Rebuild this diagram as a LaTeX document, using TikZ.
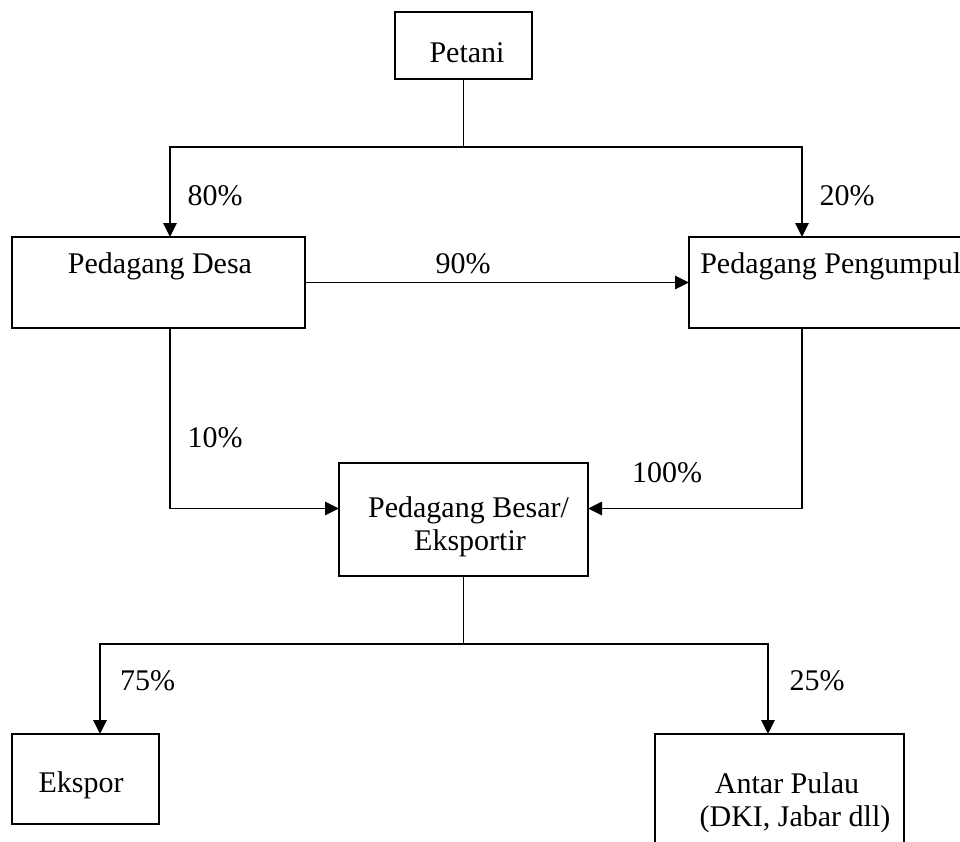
\documentclass[tikz,border=0pt]{standalone}
\usepackage{fontspec}
\setmainfont{Liberation Serif}
\usetikzlibrary{arrows.meta}
\begin{document}
\begin{tikzpicture}[x=0.75pt,y=-0.75pt,
  box/.style={draw,line width=1.2pt,inner sep=0pt,outer sep=0pt},
  txt/.style={anchor=base,inner sep=0pt,font=\fontsize{22.5}{27}\selectfont},
  ln/.style={line width=1.2pt},
  arr/.style={line width=1.2pt,-{Triangle[length=10.5pt,width=10pt]}}]
\useasboundingbox (0,0) rectangle (960,842);
\clip (0,0) rectangle (960,842);
\fill[white] (0,0) rectangle (960,842);
% boxes
\node[box,minimum width=102.75pt,minimum height=50.25pt] (petani) at (463.5,45.5) {};
\node[box,minimum width=219.75pt,minimum height=68.25pt] (desa) at (158.5,282.5) {};
\node[box,minimum width=207pt,minimum height=68.25pt] (pengumpul) at (827,282.5) {};
\node[box,minimum width=186.75pt,minimum height=84.75pt] (besar) at (463.5,519.5) {};
\node[box,minimum width=110.25pt,minimum height=67.5pt] (ekspor) at (85.5,779) {};
\node[box,minimum width=186.75pt,minimum height=87pt] (antar) at (779.5,792) {};
% texts
\node[txt] (tpetani) at (467,63) {Petani};
\node[txt] (tdesa) at (160,273) {Pedagang Desa};
\node[txt,anchor=base west] (tpeng) at (700,273) {Pedagang Pengumpul};
\node[txt] (tbesar1) at (468.5,517) {Pedagang Besar/};
\node[txt] (tbesar2) at (470,550) {Eksportir};
\node[txt] (tekspor) at (81,792) {Ekspor};
\node[txt] (tantar1) at (787,793) {Antar Pulau};
\node[txt] (tantar2) at (795,826) {(DKI, Jabar dll)};
% labels
\node[txt] (l80) at (215,205) {80\%};
\node[txt] (l20) at (847,205) {20\%};
\node[txt] (l90) at (463,273) {90\%};
\node[txt] (l10) at (215,447) {10\%};
\node[txt] (l100) at (667,482) {100\%};
\node[txt] (l75) at (147.5,690) {75\%};
\node[txt] (l25) at (817,690) {25\%};
% coordinates
\coordinate (j1) at (463.5,147);
\coordinate (c80) at (170,147);
\coordinate (c20) at (802,147);
\coordinate (c10) at (170,508.5);
\coordinate (c100) at (802,508.5);
\coordinate (j2) at (463.5,644);
\coordinate (c75) at (100,644);
\coordinate (c25) at (768,644);
% connectors
\draw[ln] (petani.south) -- (j1);
\draw[arr] (j1) -- (c80) -- (c80 |- desa.north);
\draw[arr] (j1) -- (c20) -- (c20 |- pengumpul.north);
\draw[arr] (desa.east) -- (pengumpul.west);
\draw[arr] (c10 |- desa.south) -- (c10) -- (c10 -| besar.west);
\draw[arr] (c100 |- pengumpul.south) -- (c100) -- (c100 -| besar.east);
\draw[ln] (besar.south) -- (j2);
\draw[arr] (j2) -- (c75) -- (c75 |- ekspor.north);
\draw[arr] (j2) -- (c25) -- (c25 |- antar.north);
\end{tikzpicture}
\end{document}
